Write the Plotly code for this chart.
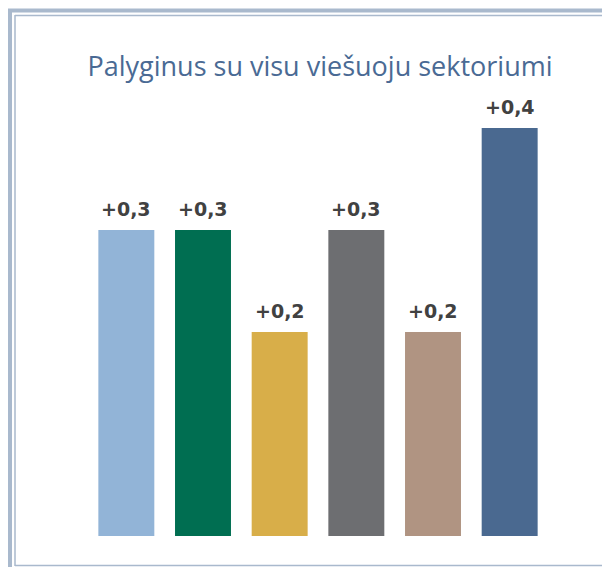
import plotly.graph_objects as go

categories = ["A", "B", "C", "D", "E", "F"]
values = [0.3, 0.3, 0.2, 0.3, 0.2, 0.4]
labels = ["+0,3", "+0,3", "+0,2", "+0,3", "+0,2", "+0,4"]
colors = ["#92b4d7", "#006e51", "#d8ae49", "#6d6e71", "#b09482", "#4a6990"]
title_text = "Palyginus su visu viešuoju sektoriumi"

# page body has an 8px margin, so the figure is drawn offset by 8px
OFF = 8
W, H = 610 - OFF, 567 - OFF
L, R, T, B = 88 - OFF, 62, 128 - OFF, 31
PW, PH = W - L - R, H - T - B

def px(x):
    return (x - OFF - L) / PW

def py(y):
    return (H - B - (y - OFF)) / PH

fig = go.Figure()
fig.add_trace(go.Bar(
    x=categories, y=values, marker=dict(color=colors, line=dict(width=0)),
    hoverinfo="skip", cliponaxis=False,
))

for c, v, t in zip(categories, values, labels):
    fig.add_annotation(x=c, y=v, text="<b>%s</b>" % t, showarrow=False,
                       yanchor="bottom", yshift=8,
                       font=dict(family="DejaVu Sans", size=19, color="#414141"))

frame = "#a9b9cd"
shapes = [
    dict(type="line", xref="paper", yref="paper", x0=px(10), x1=px(10), y0=py(9), y1=py(567), line=dict(color=frame, width=4)),
    dict(type="line", xref="paper", yref="paper", x0=px(8), x1=px(610), y0=py(10.5), y1=py(10.5), line=dict(color=frame, width=4)),
    dict(type="line", xref="paper", yref="paper", x0=px(15), x1=px(15), y0=py(15), y1=py(566), line=dict(color=frame, width=1.5)),
    dict(type="line", xref="paper", yref="paper", x0=px(15), x1=px(610), y0=py(15.5), y1=py(15.5), line=dict(color=frame, width=1.5)),
    dict(type="line", xref="paper", yref="paper", x0=px(15), x1=px(610), y0=py(565.5), y1=py(565.5), line=dict(color=frame, width=1.5)),
]

fig.update_layout(
    width=W, height=H,
    margin=dict(l=L, r=R, t=T, b=B),
    paper_bgcolor="white", plot_bgcolor="white",
    bargap=0.27,
    showlegend=False,
    shapes=shapes,
    title=dict(text=title_text, x=(320 - OFF) / W, xanchor="center", y=1 - (66.5 - OFF) / H, yanchor="middle",
               yref="container",
               font=dict(family="Open Sans", size=27, color="#4a6a94")),
    xaxis=dict(showticklabels=False, showgrid=False, zeroline=False, showline=False, ticks=""),
    yaxis=dict(range=[0, 0.4], showticklabels=False, showgrid=False, zeroline=False, showline=False, ticks=""),
)

fig.write_html("out.html")
